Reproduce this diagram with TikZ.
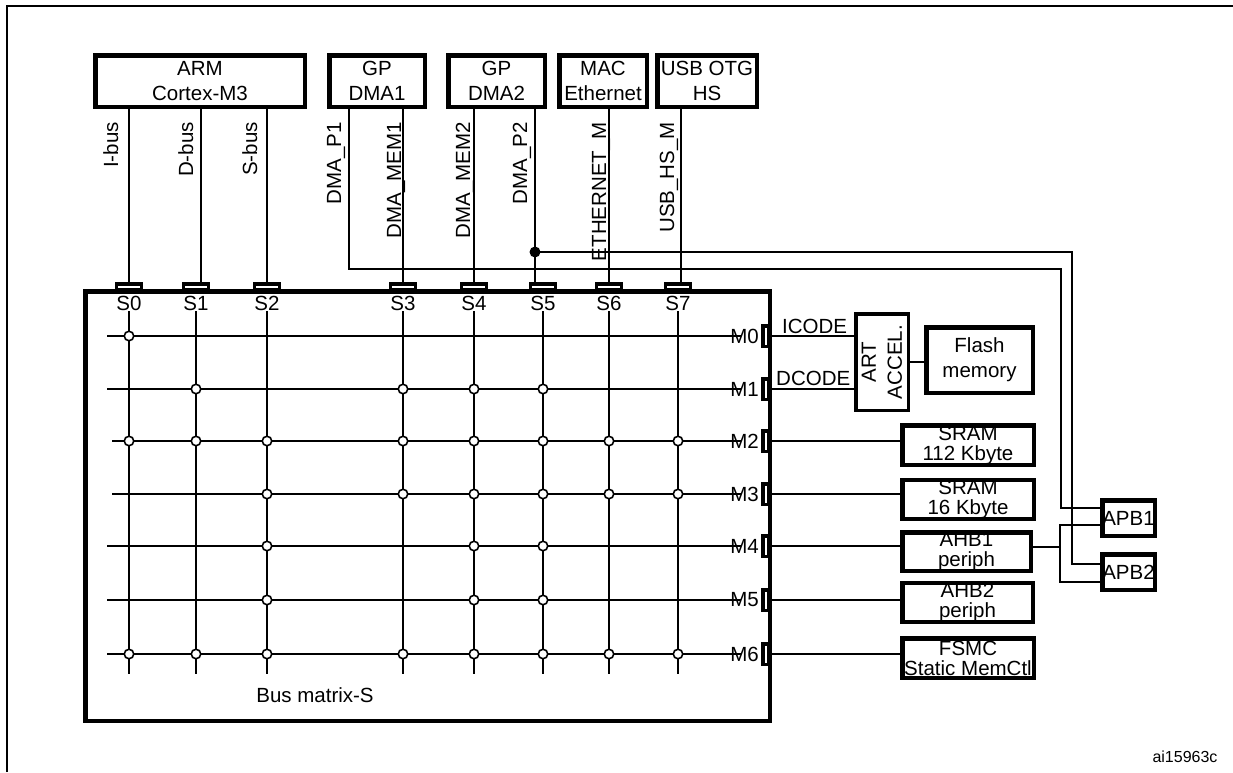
\documentclass[tikz,border=0pt]{standalone}
\usepackage{fontspec}
\setmainfont{Liberation Sans}
\usetikzlibrary{positioning,calc}

\begin{document}
\begin{tikzpicture}[x=1pt, y=-1pt,
    every node/.style={font=\fontsize{20.5}{25}\selectfont, inner sep=0pt},
    blk/.style={draw, line width=4.5pt, align=center},
    mem/.style={blk, font=\fontsize{20.5}{20}\selectfont},
    sport/.style={draw, line width=3.5pt, fill=white, minimum width=25pt, minimum height=5.5pt},
    mport/.style={draw, line width=3.5pt, fill=white, minimum width=5.5pt, minimum height=20.5pt},
    jn/.style={draw, circle, line width=1.6pt, fill=white, minimum size=9.5pt},
    bus/.style={rotate=90, anchor=base east},
    wire/.style={line width=1.8pt}]
    \useasboundingbox (0,0) rectangle (1233,772);
    \draw[line width=2pt] (7,772) |- (1233,6);

    \node[blk, minimum width=209.5pt, minimum height=51.5pt] (arm) at (200,81) {ARM\\Cortex-M3};
    \node[blk, minimum width=95.5pt, minimum height=51.5pt] (dma1) at (377,81) {GP\\DMA1};
    \node[blk, minimum width=96.5pt, minimum height=51.5pt] (dma2) at (496.5,81) {GP\\DMA2};
    \node[blk, minimum width=87.5pt, minimum height=51.5pt] (mac) at (603,81) {MAC\\Ethernet};
    \node[blk, minimum width=99.5pt, minimum height=51.5pt] (usb) at (707,81) {USB OTG\\HS};

    \node[draw, line width=4.5pt, minimum width=684.7pt, minimum height=429.3pt] (bm) at (427.65,506.35) {};
    \node (bmlabel) at (315,695) {Bus matrix-S};

    \foreach \i/\x in {0/129,1/196,2/267,3/403,4/474,5/543,6/609,7/678} {
      \coordinate (c\i) at (\x,0);
      \draw[wire] (\x,311) -- (\x,674);
      \node[sport] (p\i) at (\x,286.5) {};
      \node (s\i) at (\x,303.5) {S\i};
    }
    \foreach \j/\y/\xs in {0/336/107,1/389/107,2/441/112,3/494/112,4/546/107,5/600/107,6/654/107} {
      \coordinate (r\j) at (0,\y);
      \draw[wire] (\xs,\y) -- (741,\y);
      \node[mport] (m\j) at (765.75,\y) {};
      \node[anchor=east] (ml\j) at (759,\y) {M\j};
    }
    \foreach \j/\cols in {0/{0},1/{1,3,4,5},2/{0,...,7},3/{2,...,7},4/{2,4,5},5/{2,4,5},6/{0,...,7}}
      \foreach \i in \cols
        \node[jn] (j\j\i) at (c\i |- r\j) {};

    \draw[wire] (arm.south -| p0) -- (p0.north);
    \draw[wire] ([xshift=5pt]p1.north |- arm.south) -- ([xshift=5pt]p1.north);
    \draw[wire] (arm.south -| p2) -- (p2.north);
    \draw[wire] (dma1.south -| p3) -- (p3.north);
    \draw[wire] (dma2.south -| p4) -- (p4.north);
    \draw[wire] ([xshift=-8pt]p5.north |- dma2.south) -- ([xshift=-8pt]p5.north);
    \draw[wire] (mac.south -| p6) -- (p6.north);
    \draw[wire] ([xshift=3pt]p7.north |- usb.south) -- ([xshift=3pt]p7.north);

    \node[bus] (ibus) at (118,122) {I-bus};
    \node[bus] (dbus) at (193,122) {D-bus};
    \node[bus] (sbus) at (257,122) {S-bus};
    \node[bus] (dmap1) at (341,122) {DMA\_P1};
    \node[bus] (dmamem1) at (401,122) {DMA\_MEM1};
    \node[bus] (dmamem2) at (470,122) {DMA\_MEM2};
    \node[bus] (dmap2) at (527,122) {DMA\_P2};
    \node[bus] (ethm) at (606,122) {ETHERNET\_M};
    \node[bus] (usbm) at (674,122) {USB\_HS\_M};

    \node[draw, line width=3.5pt, rotate=90, minimum width=96.5pt, minimum height=52.5pt, align=center, font=\fontsize{20.5}{26}\selectfont] (art) at (882,362) {ART\\ACCEL.};
    \node[blk, minimum width=106.5pt, minimum height=65.5pt] (flash) at (979.5,360) {Flash\\memory};
    \node[mem, minimum width=131.5pt, minimum height=39.5pt] (sram1) at (968,445) {SRAM\\112 Kbyte};
    \node[mem, minimum width=131.5pt, minimum height=38.5pt] (sram2) at (968,499.5) {SRAM\\16 Kbyte};
    \node[mem, minimum width=128.5pt, minimum height=38.5pt] (ahb1) at (966.5,551.5) {AHB1\\periph};
    \node[mem, minimum width=130.5pt, minimum height=38.5pt] (ahb2) at (967.5,602.5) {AHB2\\periph};
    \node[mem, minimum width=131.5pt, minimum height=39.5pt] (fsmc) at (968,658) {FSMC\\Static MemCtl};
    \node[blk, minimum width=52.5pt, minimum height=35.5pt] (apb1) at (1128.5,518) {APB1};
    \node[blk, minimum width=52.5pt, minimum height=35.5pt] (apb2) at (1128.5,572) {APB2};

    \node[anchor=base west] (icode) at (782,333) {ICODE};
    \node[anchor=base west] (dcode) at (776,385) {DCODE};
    \draw[wire] (m0.east) -- (m0.east -| art.north);
    \draw[wire] (m1.east) -- (m1.east -| art.north);
    \draw[wire] (art.south) -- (art.south -| flash.west);
    \foreach \j/\n in {2/sram1,3/sram2,4/ahb1,5/ahb2,6/fsmc}
      \draw[wire] (m\j.east) -- (m\j.east -| \n.west);

    \coordinate (apbbus) at (1060,547);
    \draw[wire] (ahb1.east |- apbbus) -- (apbbus);
    \draw[wire] ([yshift=-7pt]apb1.west) -| ([yshift=-10pt]apb2.west -| apbbus) -- ([yshift=-10pt]apb2.west);

    \coordinate (p1bend) at (1061,269);
    \draw[wire] ([xshift=-28pt]dma1.south) |- (p1bend) |- ([yshift=10pt]apb1.west);
    \node[circle, fill, minimum size=11pt] (p2dot) at (535,252) {};
    \coordinate (p2bend) at (1072,252);
    \draw[wire] (p2dot.center) -- (p2bend) |- ([yshift=8pt]apb2.west);

    \node[font=\fontsize{16}{18}\selectfont] (fig) at (1185,757) {ai15963c};
  \end{tikzpicture}
\end{document}
